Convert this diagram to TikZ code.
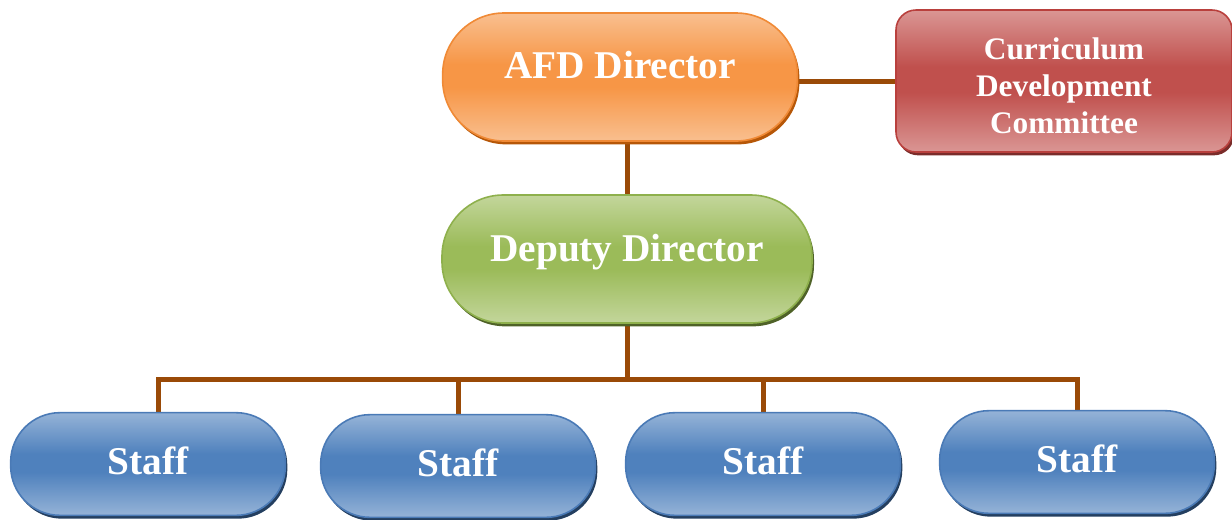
\documentclass[tikz,border=0pt]{standalone}
\usepackage{fontspec}
\setmainfont{Liberation Serif}
\usetikzlibrary{shadows,backgrounds}
\definecolor{oL}{HTML}{F9BF8F}\definecolor{oM}{HTML}{F79646}\definecolor{oB}{HTML}{F08A36}\definecolor{oS}{HTML}{B65708}
\definecolor{gL}{HTML}{C3D69B}\definecolor{gM}{HTML}{9BBB59}\definecolor{gB}{HTML}{8EB04C}\definecolor{gS}{HTML}{4F6228}
\definecolor{rL}{HTML}{DA9694}\definecolor{rM}{HTML}{C0504D}\definecolor{rB}{HTML}{B9403D}\definecolor{rS}{HTML}{7A2C2A}
\definecolor{bL}{HTML}{95B3D7}\definecolor{bM}{HTML}{4F81BD}\definecolor{bB}{HTML}{4A7AB6}\definecolor{bS}{HTML}{243F60}
\definecolor{ln}{HTML}{9A4A07}
\pgfdeclareverticalshading{osh}{100bp}{color(0bp)=(oL); color(25bp)=(oL); color(46bp)=(oM); color(55bp)=(oM); color(75bp)=(oL); color(100bp)=(oL)}
\pgfdeclareverticalshading{gsh}{100bp}{color(0bp)=(gL); color(25bp)=(gL); color(46bp)=(gM); color(55bp)=(gM); color(75bp)=(gL); color(100bp)=(gL)}
\pgfdeclareverticalshading{rsh}{100bp}{color(0bp)=(rL); color(25bp)=(rL); color(46bp)=(rM); color(55bp)=(rM); color(75bp)=(rL); color(100bp)=(rL)}
\pgfdeclareverticalshading{bsh}{100bp}{color(0bp)=(bL); color(25bp)=(bL); color(46bp)=(bM); color(55bp)=(bM); color(75bp)=(bL); color(100bp)=(bL)}
\newcommand{\lifted}[2]{\smash{\raisebox{#1}{#2}}}
\tikzset{
  box/.style={draw, line width=1.2pt, text=white, align=center, inner sep=0pt,
    font=\fontsize{29.5}{34}\selectfont\bfseries},
  pill/.style={box, rounded corners=46pt},
  orangebox/.style={pill, shading=osh, draw=oB, drop shadow={shadow xshift=1.5pt, shadow yshift=-2.5pt, fill=oS, opacity=1}},
  greenbox/.style={pill, shading=gsh, draw=gB, drop shadow={shadow xshift=1.5pt, shadow yshift=-2.5pt, fill=gS, opacity=1}},
  redbox/.style={box, rounded corners=15pt, shading=rsh, draw=rB,
    drop shadow={shadow xshift=1.5pt, shadow yshift=-2.5pt, fill=rS, opacity=1}},
  redtext/.style={text=white, align=center, inner sep=0pt, font=\fontsize{23.5}{28}\selectfont\bfseries},
  bluebox/.style={box, rounded corners=37pt, shading=bsh, draw=bB, minimum width=206pt, minimum height=77pt,
    drop shadow={shadow xshift=1.5pt, shadow yshift=-2.5pt, fill=bS, opacity=1}},
  conn/.style={draw=ln, line width=3.75pt}
}
\begin{document}
\begin{tikzpicture}[x=0.75pt,y=-0.75pt]
\useasboundingbox (0,0) rectangle (1232,519);
\node[orangebox, minimum width=266pt, minimum height=96pt] (afd) at (620,77) {\lifted{-1pt}{AFD Director}};
\node[redbox, minimum width=252pt, minimum height=106.5pt,
  label={[redtext, yshift=-3.5pt]center:Curriculum\\Development\\Committee}] (cdc) at (1064,81) {};
\node[greenbox, minimum width=277.5pt, minimum height=96pt] (dep) at (627,259) {\lifted{-2pt}{Deputy Director}};
\node[bluebox] (s1) at (148,464) {\lifted{-7.5pt}{Staff}};
\node[bluebox] (s2) at (458,466) {\lifted{-7.5pt}{Staff}};
\node[bluebox] (s3) at (763,464) {\lifted{-7.5pt}{Staff}};
\node[bluebox] (s4) at (1077,462) {\lifted{-7.5pt}{Staff}};
\coordinate (bus) at (627,379);
\coordinate (s1top) at ([xshift=7.5pt]s1.north);
\begin{scope}[on background layer]
\draw[conn] (afd.east |- cdc.west) -- (cdc.west);
\draw[conn] (dep.north |- afd.south) -- (dep.north);
\draw[conn] (dep.south) -- (bus);
\draw[conn] (s1top) |- (s4.north |- bus) -- (s4.north);
\draw[conn] (s2.north) -- (s2.north |- bus);
\draw[conn] (s3.north) -- (s3.north |- bus);
\end{scope}
\end{tikzpicture}
\end{document}
